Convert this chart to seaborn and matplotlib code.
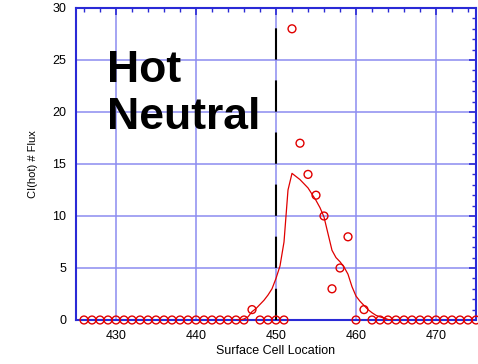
import numpy as np
import pandas as pd
import matplotlib
matplotlib.use("Agg")
import matplotlib.pyplot as plt
from matplotlib.ticker import MultipleLocator
import seaborn as sns

# measured counts (circles) per surface cell
cells = list(range(426, 476))
counts = [0] * len(cells)
measured = {447: 1, 452: 28, 453: 17, 454: 14, 455: 12, 456: 10,
            457: 3, 458: 5, 459: 8, 461: 1}
for c, v in measured.items():
    counts[cells.index(c)] = v

# model curve (red line)
curve_x = [445, 445.5, 446, 446.5, 447, 447.5, 448, 448.5, 449, 449.5,
           450, 450.5, 451, 451.5, 452, 452.5, 453, 453.5, 454, 454.5,
           455, 455.5, 456, 456.5, 457, 457.5, 458, 458.5, 459, 459.5,
           460, 460.5, 461, 461.5, 462, 462.5, 463, 463.5, 464, 464.5, 465]
curve_y = [0, 0, 0.1, 0.3, 0.8, 1.1, 1.5, 1.9, 2.4, 3.0,
           4.0, 5.2, 7.5, 12.5, 14.1, 13.8, 13.5, 13.1, 12.7, 12.1,
           11.5, 10.8, 9.9, 8.3, 6.7, 6.0, 5.6, 5.1, 4.4, 3.2,
           2.3, 1.8, 1.4, 1.0, 0.7, 0.45, 0.3, 0.2, 0.05, 0, 0]

cutoff = 450

df_pts = pd.DataFrame({"cell": cells, "flux": counts})
df_curve = pd.DataFrame({"cell": curve_x, "flux": curve_y})

sns.set_theme(style="white")
plt.rcParams["font.family"] = ["Liberation Sans", "DejaVu Sans"]
plt.rcParams["text.color"] = "black"
plt.rcParams["axes.labelcolor"] = "black"

blue = "#2a2ad6"
grid_blue = "#8c8cf0"
red = "#e00000"

fig = plt.figure(figsize=(4.78, 3.64), dpi=100)
ax = fig.add_axes([76 / 478, 44 / 364, 400 / 478, 312 / 364])

ax.grid(True, color=grid_blue, linewidth=1.1, which="major")
ax.axvline(cutoff, color="black", linewidth=1.5, linestyle=(0, (15, 10)), zorder=3)

sns.lineplot(data=df_curve, x="cell", y="flux", color=red, linewidth=0.9, ax=ax, zorder=4)
sns.scatterplot(data=df_pts, x="cell", y="flux", marker="o", s=32,
                facecolor="none", edgecolor=red, linewidth=1.0, ax=ax,
                clip_on=False, zorder=5)

ax.text(428.9, 22.9, "Hot", fontsize=32, fontweight="bold", va="baseline", ha="left", color="black")
ax.text(428.9, 18.4, "Neutral", fontsize=32, fontweight="bold", va="baseline", ha="left", color="black")

ax.set_xlim(425, 475)
ax.set_ylim(0, 30)
ax.xaxis.set_major_locator(MultipleLocator(10))
ax.xaxis.set_minor_locator(MultipleLocator(2))
ax.yaxis.set_major_locator(MultipleLocator(5))
ax.yaxis.set_minor_locator(MultipleLocator(1))

for s in ax.spines.values():
    s.set_color(blue)
    s.set_linewidth(1.5)

ax.tick_params(which="both", direction="in", top=True, right=True,
               color=blue, labelsize=9, labelcolor="black")
ax.tick_params(which="major", length=5, width=1.2)
ax.tick_params(which="minor", length=3, width=1.0)
ax.tick_params(axis="x", which="major", pad=7)
ax.tick_params(axis="y", which="major", pad=7)

ax.set_xlabel("Surface Cell Location", fontsize=9, labelpad=2, color="black")
ax.set_ylabel("CI(hot) # Flux", fontsize=8, labelpad=10, color="black")

fig.savefig("out.png", dpi=100)
